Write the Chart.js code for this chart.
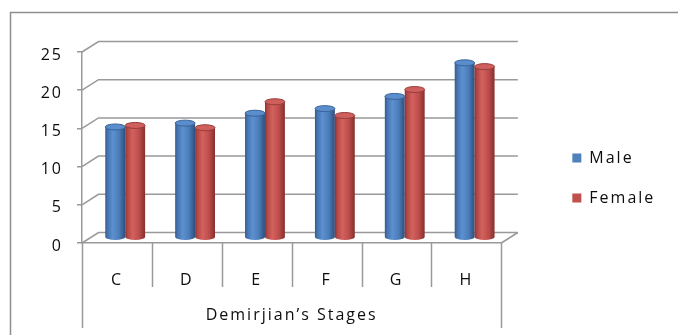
<!DOCTYPE html>
<html>
<head>
<meta charset="utf-8">
<script src="https://cdn.jsdelivr.net/npm/chart.js@4/dist/chart.umd.min.js"></script>
<style>
  html, body { margin: 0; padding: 0; background: #ffffff; }
  #c { display: block; }
</style>
</head>
<body>
<canvas id="c" width="678" height="335"></canvas>
<script>
// Mean age per Demirjian stage
const stages = ['C', 'D', 'E', 'F', 'G', 'H'];
const maleAge = [14.5, 15.0, 16.3, 16.9, 18.5, 22.9];
const femaleAge = [14.7, 14.4, 17.8, 16.0, 19.4, 22.4];
const yTicks = [0, 5, 10, 15, 20, 25];
const seriesNames = ['Male', 'Female'];
const axisTitle = 'Demirjian\u2019s Stages';

// pseudo-3D depth of the plot box (back wall offset from the front plane)
const DX = 16.5, DY = -10.5;
const GRID = '#999999';
const TEXT = '#0d0d0d';
const FONT = { family: '"Open Sans", "DejaVu Sans", sans-serif', size: 16 };

const PALETTES = [
  { base: '#4f81bd', side: [[0, '#33598a'], [0.12, '#4575b0'], [0.38, '#5d90d0'], [0.7, '#4a7cb8'], [1, '#2d4f7d']],
    cap: '#5a8dcc', rim: '#3a6399' },
  { base: '#c0504d', side: [[0, '#8c3331'], [0.12, '#b34744'], [0.38, '#d3625f'], [0.7, '#bd4d4a'], [1, '#852f2d']],
    cap: '#cf5f5c', rim: '#963d3b' }
];

function applySpacing(chart) {
  if ('letterSpacing' in chart.ctx) chart.ctx.letterSpacing = '2px';
}

function drawCylinder(ctx, cx, top, base, r, pal) {
  const ry = 3;
  const g = ctx.createLinearGradient(cx - r, 0, cx + r, 0);
  pal.side.forEach(([o, c]) => g.addColorStop(o, c));
  ctx.save();
  ctx.beginPath();
  ctx.moveTo(cx - r, top);
  ctx.lineTo(cx - r, base);
  ctx.ellipse(cx, base, r, ry, 0, Math.PI, 0, true);
  ctx.lineTo(cx + r, top);
  ctx.closePath();
  ctx.fillStyle = g;
  ctx.fill();
  ctx.beginPath();
  ctx.ellipse(cx, top, r, ry, 0, 0, Math.PI * 2);
  ctx.fillStyle = pal.cap;
  ctx.fill();
  ctx.strokeStyle = pal.rim;
  ctx.lineWidth = 1;
  ctx.stroke();
  ctx.restore();
}

const depthPlugin = {
  id: 'depthBox',
  beforeUpdate: applySpacing,
  beforeLayout: applySpacing,
  beforeDraw(chart) {
    applySpacing(chart);
    const ctx = chart.ctx;
    // outer frame
    ctx.save();
    ctx.strokeStyle = '#8e8e8e';
    ctx.lineWidth = 1.5;
    ctx.beginPath();
    ctx.moveTo(10.5, chart.height + 5);
    ctx.lineTo(10.5, 12.5);
    ctx.lineTo(chart.width + 5, 12.5);
    ctx.stroke();
    ctx.restore();
  },
  beforeDatasetsDraw(chart) {
    const { ctx, chartArea: a, scales: { x, y } } = chart;
    ctx.save();
    ctx.strokeStyle = GRID;
    ctx.lineWidth = 1.5;
    // side-wall diagonals and back-wall grid lines
    y.ticks.forEach(t => {
      const py = y.getPixelForValue(t.value);
      ctx.beginPath();
      ctx.moveTo(a.left, py);
      ctx.lineTo(a.left + DX, py + DY);
      ctx.lineTo(a.right + DX, py + DY);
      ctx.stroke();
    });
    // right edge of the floor
    ctx.beginPath();
    ctx.moveTo(a.right, a.bottom);
    ctx.lineTo(a.right + DX, a.bottom + DY);
    ctx.stroke();
    // category dividers below the floor
    const n = stages.length;
    for (let i = 0; i <= n; i++) {
      const px = Math.round(x.getPixelForValue(i - 0.5)) + 0.5;
      const len = (i === 0 || i === n) ? 85 : 44;
      ctx.beginPath();
      ctx.moveTo(px, a.bottom);
      ctx.lineTo(px, a.bottom + len);
      ctx.stroke();
    }
    ctx.restore();
  },
  beforeDatasetDraw() {
    return false;
  },
  afterDatasetsDraw(chart) {
    const ctx = chart.ctx;
    chart.data.datasets.forEach((ds, di) => {
      const meta = chart.getDatasetMeta(di);
      if (meta.hidden) return;
      meta.data.forEach(el => {
        const p = el.getProps(['x', 'y', 'base', 'width'], true);
        drawCylinder(ctx, p.x + DX / 2, p.y + DY / 2, p.base + DY / 2, p.width / 2, PALETTES[di]);
      });
    });
  }
};

new Chart(document.getElementById('c'), {
  type: 'bar',
  data: {
    labels: stages,
    datasets: [
      { label: seriesNames[0], data: maleAge, backgroundColor: PALETTES[0].base, borderWidth: 0 },
      { label: seriesNames[1], data: femaleAge, backgroundColor: PALETTES[1].base, borderWidth: 0 }
    ]
  },
  options: {
    responsive: false,
    animation: false,
    devicePixelRatio: 1,
    categoryPercentage: 0.57,
    barPercentage: 1.0,
    layout: { padding: { top: 21, right: 20, bottom: 0, left: 0 } },
    plugins: {
      legend: {
        position: 'right',
        labels: { boxWidth: 9, boxHeight: 9, padding: 24, color: TEXT, font: FONT }
      },
      tooltip: { enabled: false }
    },
    scales: {
      x: {
        type: 'category',
        position: 'bottom',
        grid: { display: false },
        border: { display: true, color: GRID, width: 1.5 },
        ticks: { color: TEXT, font: FONT, padding: 20 },
        title: { display: true, text: axisTitle, color: TEXT, font: FONT, padding: { top: 4, bottom: 10 } },
        afterFit(s) { s.height = 92; }
      },
      y: {
        type: 'linear',
        position: 'left',
        min: 0,
        max: 25,
        afterBuildTicks(s) { s.ticks = yTicks.map(v => ({ value: v })); },
        grid: { drawOnChartArea: false, drawTicks: true, tickLength: 5, color: GRID, lineWidth: 1.5 },
        border: { display: true, color: GRID, width: 1.5 },
        ticks: { color: TEXT, font: FONT, padding: 14, labelOffset: 3 },
        afterFit(s) { s.width = 82; }
      },
      topSpace: {
        type: 'linear',
        axis: 'x',
        position: 'top',
        grid: { display: false },
        border: { display: false },
        ticks: { display: false },
        afterFit(s) { s.height = 31; }
      },
      rightSpace: {
        type: 'linear',
        axis: 'y',
        position: 'right',
        grid: { display: false },
        border: { display: false },
        ticks: { display: false },
        afterFit(s) { s.width = 47; }
      }
    }
  },
  plugins: [depthPlugin]
});
</script>
</body>
</html>
